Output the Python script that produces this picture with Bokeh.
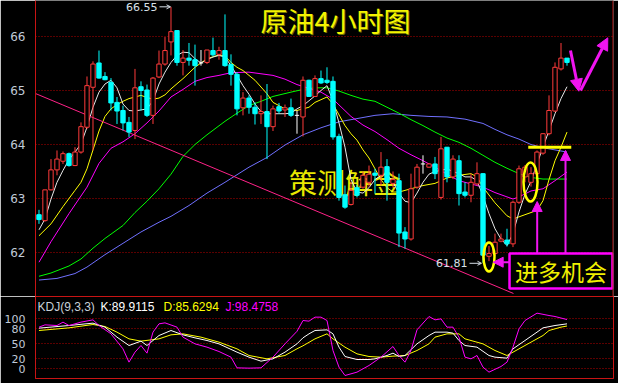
from bokeh.plotting import figure
from bokeh.layouts import column
from bokeh.models import Range1d, FixedTicker, Span, Label, Arrow, NormalHead, OpenHead
from bokeh.embed import file_html
from bokeh.resources import INLINE

# ---------------- candle data (4h crude oil) ----------------
opens = [62.70, 62.59, 63.16, 63.53, 63.69, 63.83, 63.61, 63.86, 64.32, 65.06,
         65.51, 65.26, 65.15, 64.78, 64.63, 64.41, 64.26, 65.07, 65.01, 64.54,
         65.25, 65.49, 65.90, 66.11, 65.52, 65.60, 65.57, 65.51, 65.52, 65.74,
         65.67, 65.74, 65.48, 65.30, 64.68, 64.86, 64.69, 64.57, 64.61, 64.33,
         64.70, 64.64, 64.68, 64.54, 64.51, 65.19, 64.89, 65.22, 65.19, 65.17,
         64.15, 63.07, 62.89, 63.20, 63.21, 63.30, 63.47, 63.43, 63.59, 63.28,
         63.33, 62.38, 62.25, 63.21, 63.64, 63.58, 63.64, 63.02, 63.95, 63.40,
         63.70, 63.12, 63.06, 63.27, 63.46, 61.93, 61.98, 62.21, 62.23, 62.16,
         62.93, 63.40, 63.30, 63.46, 63.84, 64.20, 64.62, 65.40, 65.60]
highs = [62.79, 63.16, 63.73, 63.89, 63.87, 63.85, 63.95, 64.41, 65.26, 65.54,
         65.74, 65.34, 65.23, 64.88, 64.72, 64.51, 65.40, 65.17, 65.11, 65.25,
         65.74, 65.99, 66.55, 66.11, 65.75, 65.88, 65.85, 65.75, 65.75, 65.98,
         65.81, 66.41, 65.67, 65.34, 64.97, 64.91, 64.78, 64.91, 65.12, 64.72,
         64.77, 64.74, 64.85, 64.63, 65.26, 65.20, 65.28, 65.37, 65.43, 65.26,
         64.20, 63.24, 63.30, 63.25, 63.50, 63.61, 63.55, 63.86, 63.73, 63.50,
         63.46, 62.47, 63.46, 63.64, 63.80, 63.65, 63.77, 64.14, 63.95, 63.80,
         63.80, 63.30, 63.46, 63.67, 63.47, 62.12, 62.35, 62.35, 62.44, 62.96,
         63.61, 63.62, 63.58, 63.89, 64.21, 64.91, 65.52, 65.88, 65.60]
lows = [62.53, 62.57, 63.15, 63.43, 63.64, 63.59, 63.60, 63.83, 64.29, 63.89,
        65.22, 65.19, 64.63, 64.38, 64.26, 64.14, 64.10, 64.63, 64.51, 64.38,
        65.23, 65.46, 65.65, 65.46, 65.28, 65.46, 65.09, 65.46, 65.49, 65.63,
        65.57, 65.44, 65.09, 64.54, 64.54, 64.57, 64.37, 64.38, 63.73, 64.25,
        64.57, 64.51, 64.51, 64.20, 64.15, 64.88, 64.88, 65.12, 65.12, 64.09,
        62.96, 62.81, 62.87, 63.02, 63.18, 63.22, 63.09, 63.24, 62.96, 63.20,
        62.10, 62.07, 62.22, 63.18, 63.46, 63.57, 63.36, 62.98, 63.30, 63.36,
        62.87, 63.02, 62.93, 63.24, 61.81, 61.84, 61.94, 62.19, 62.11, 62.10,
        62.90, 63.30, 63.22, 63.43, 63.81, 64.17, 64.60, 65.37, 65.46]
closes = [62.61, 63.16, 63.53, 63.73, 63.83, 63.61, 63.86, 64.33, 65.09, 65.49,
          65.23, 65.20, 64.77, 64.62, 64.40, 64.23, 65.05, 65.00, 64.54, 65.23,
          65.49, 65.74, 66.09, 65.52, 65.60, 65.56, 65.46, 65.51, 65.75, 65.66,
          65.74, 65.46, 65.30, 64.66, 64.86, 64.69, 64.57, 64.61, 64.33, 64.66,
          64.62, 64.68, 64.54, 64.54, 65.19, 64.89, 65.22, 65.14, 65.15, 64.14,
          63.02, 62.84, 63.15, 63.06, 63.43, 63.45, 63.43, 63.58, 63.30, 63.35,
          62.36, 62.25, 63.18, 63.58, 63.64, 63.64, 63.46, 63.92, 63.40, 63.73,
          63.09, 63.06, 63.30, 63.46, 61.95, 61.98, 62.19, 62.25, 62.16, 62.93,
          63.55, 63.58, 63.46, 63.86, 64.20, 64.63, 65.43, 65.60, 65.52]

# ---------------- moving averages ----------------
ma_white_x = list(range(89))
ma_white_y = [62.42, 62.62, 62.99, 63.30, 63.52, 63.72, 63.86, 64.01, 64.32, 64.69,
              64.97, 65.12, 65.19, 65.05, 64.75, 64.63, 64.62, 64.64, 64.66, 64.81,
              65.12, 65.34, 65.52, 65.65, 65.71, 65.70, 65.59, 65.51, 65.57, 65.62,
              65.65, 65.62, 65.46, 65.28, 65.09, 64.93, 64.75, 64.61, 64.57, 64.57,
              64.57, 64.57, 64.58, 64.66, 64.72, 64.81, 64.90, 65.00, 65.09, 64.81,
              64.40, 63.95, 63.35, 63.12, 63.10, 63.20, 63.35, 63.43, 63.45, 63.30,
              63.10, 62.95, 62.92, 63.10, 63.30, 63.45, 63.50, 63.52, 63.55, 63.50,
              63.46, 63.40, 63.40, 63.33, 63.05, 62.72, 62.44, 62.25, 62.13, 62.35,
              62.75, 63.08, 63.32, 63.64, 63.95, 64.26, 64.57, 64.85, 65.07]
ma_yellow_x = [0, 2, 4, 6, 7, 8, 9, 10, 11, 12, 13, 14, 15, 16, 17, 18, 19, 20, 21, 22,
               24, 26, 28, 30, 31, 32, 33, 34, 36, 38, 39, 41, 43, 45, 46, 48, 49, 51, 52, 53,
               54, 55, 56, 57, 58, 59, 60, 62, 64, 66, 68, 70, 72, 73, 74, 76, 78, 79, 81, 83,
               84, 85, 86, 87, 88]
ma_yellow_y = [62.31, 62.53, 62.85, 63.15, 63.30, 63.55, 63.90, 64.25, 64.52, 64.66,
               64.74, 64.80, 64.85, 64.88, 64.91, 64.87, 64.84, 64.86, 64.92, 65.03,
               65.22, 65.43, 65.59, 65.66, 65.64, 65.52, 65.43, 65.37, 65.19, 64.94,
               64.78, 64.66, 64.63, 64.69, 64.78, 64.88, 64.75, 64.35, 64.20, 64.08,
               63.90, 63.75, 63.55, 63.35, 63.20, 63.12, 63.12, 63.18, 63.24, 63.28,
               63.38, 63.43, 63.46, 63.40, 63.21, 62.92, 62.68, 62.62, 62.70, 62.78,
               62.96, 63.35, 63.70, 63.95, 64.23]
ma_magenta_x = [0, 2, 5, 8, 10, 12, 14, 16, 18, 20, 22, 24, 26, 28, 30, 32, 35, 37, 39, 41,
                43, 45, 47, 49, 52, 54, 56, 58, 60, 62, 64, 66, 68, 70, 72, 74, 76, 78, 79, 80,
                82, 84, 86, 88]
ma_magenta_y = [61.82, 62.20, 62.72, 63.21, 63.65, 63.93, 64.05, 64.20, 64.40, 64.62,
                64.88, 65.02, 65.17, 65.24, 65.28, 65.33, 65.34, 65.31, 65.28, 65.21,
                65.11, 65.04, 64.97, 64.84, 64.52, 64.36, 64.24, 64.09, 63.93, 63.81,
                63.70, 63.58, 63.45, 63.33, 63.27, 63.21, 63.11, 63.03, 62.99, 63.03,
                63.14, 63.18, 63.33, 63.49]
ma_green_x = [0, 2, 5, 7, 9, 11, 14, 16, 18, 20, 22, 24, 26, 28, 31, 33, 35, 37, 39, 42,
              44, 46, 48, 50, 52, 54, 56, 58, 60, 62, 64, 66, 68, 70, 72, 74, 76, 78, 80, 82,
              84, 86, 88]
ma_green_y = [61.56, 61.62, 61.75, 61.88, 62.08, 62.26, 62.50, 62.74, 62.95, 63.18,
              63.45, 63.78, 64.00, 64.18, 64.43, 64.58, 64.72, 64.80, 64.89, 64.97,
              65.02, 65.05, 65.05, 64.99, 64.91, 64.84, 64.80, 64.69, 64.58, 64.46,
              64.35, 64.23, 64.12, 64.04, 63.93, 63.80, 63.67, 63.56, 63.46, 63.39,
              63.36, 63.36, 63.36]
ma_blue_x = [0, 3, 6, 8, 11, 14, 17, 20, 22, 25, 28, 31, 35, 38, 41, 44, 47, 50, 53, 56,
             59, 62, 65, 68, 71, 74, 76, 78, 80, 82, 84, 86, 88]
ma_blue_y = [61.49, 61.52, 61.61, 61.73, 61.96, 62.17, 62.38, 62.56, 62.67, 62.87,
             63.10, 63.30, 63.58, 63.76, 63.99, 64.18, 64.31, 64.42, 64.48, 64.54,
             64.57, 64.54, 64.52, 64.51, 64.47, 64.39, 64.28, 64.18, 64.10, 64.00,
             63.94, 63.90, 63.86]

# ---------------- KDJ(9,3,3) ----------------
k_x = [0, 5, 9, 11, 13, 15, 17, 18, 20, 22, 24, 26, 28, 30, 33, 35, 37, 39, 41, 43,
       44, 45, 46, 48, 49, 50, 51, 53, 55, 56, 58, 59, 60, 61, 63, 65, 66, 68, 69, 70,
       71, 73, 75, 76, 78, 79, 81, 83, 84, 86, 88]
k_y = [81.3, 86.6, 91.3, 83.3, 63.3, 46.6, 55.3, 46.6, 66.6, 76.6,
       67.9, 61.9, 56.6, 49.9, 33.3, 23.3, 15.3, 19.9, 33.3, 50.0,
       62.0, 69.9, 76.6, 77.9, 69.9, 43.3, 24.6, 18.6, 18.6, 19.9,
       26.6, 31.3, 24.6, 26.6, 49.9, 66.6, 73.3, 73.3, 71.3, 56.6,
       46.6, 43.3, 26.6, 23.3, 21.3, 39.9, 56.6, 73.3, 81.9, 86.6, 89.9]
d_x = [0, 5, 9, 11, 13, 15, 17, 20, 22, 24, 27, 30, 33, 35, 38, 41, 43, 44, 46, 48,
       49, 51, 53, 55, 57, 59, 61, 63, 65, 66, 68, 70, 71, 74, 76, 78, 80, 82, 84, 85,
       87, 88]
d_y = [76.6, 81.9, 88.6, 84.6, 73.3, 59.9, 55.3, 59.9, 67.9, 69.9,
       63.3, 53.3, 39.9, 26.6, 19.9, 26.6, 40.0, 46.0, 59.9, 69.9,
       59.9, 43.3, 29.9, 24.6, 23.3, 25.3, 26.6, 36.6, 49.9, 63.3,
       69.9, 69.9, 59.9, 49.9, 36.6, 26.6, 39.9, 53.3, 66.6, 76.6, 83.3, 85.6]
j_x = [0, 1, 3, 4, 5, 7, 9, 10, 12, 14, 15, 16, 17, 18, 19, 20, 21, 23, 24, 26,
       28, 30, 32, 33, 35, 37, 39, 41, 43, 44, 45, 46, 47, 48, 49, 50, 51, 53, 55, 57,
       59, 60, 61, 62, 63, 65, 66, 67, 68, 69, 70, 71, 72, 73, 74, 75, 77, 78, 79, 80,
       81, 83, 85, 86, 88]
j_y = [83.3, 87.9, 86.6, 93.3, 86.6, 93.3, 97.9, 86.6, 69.9, 39.9,
       13.3, 33.3, 46.6, 31.3, 73.3, 89.9, 91.9, 83.3, 63.3, 49.9,
       43.3, 34.6, 23.3, 1.9, 1.3, 1.9, 23.3, 49.9, 75.0, 96.6,
       95.3, 103.3, 103.3, 96.6, 36.6, 3.3, -13.4, -6.7, 6.6, 23.3,
       44.6, 26.6, 13.3, 36.6, 77.9, 104.6, 97.9, 99.9, 83.3, 83.3,
       63.3, 23.3, 19.9, 26.6, 3.3, -6.7, 4.6, 13.3, 43.3, 79.9,
       96.6, 111.3, 106.6, 104.6, 98.5]

price_ticks = [62, 63, 64, 65, 66]
kdj_ticks = [0, 20, 50, 80, 100]
kdj_header = ["KDJ(9,3,3)", "K:89.9115", "D:85.6294", "J:98.4758"]

# hand-drawn annotations of the original chart
TITLE = "原油4小时图"
WATERMARK = "策测解金"
CALLOUT = "进多机会"
HIGH_TEXT = "66.55"
LOW_TEXT = "61.81"
trend_x = [-0.58, 79.08]
trend_y = [64.944, 61.241]

# ---------------- styles ----------------
RED = "#ff3b3b"
CYAN = "#00ffff"
WHITE = "#e8e8e8"
YEL = "#ffff00"
MAG = "#ff00ff"
GRN = "#00ff00"
BLU = "#7070ff"
PINK = "#ff2288"
FRAME = "#c81414"
GRID = "#b40000"
AXTXT = "#c0cad8"
ARW = "#f014f0"

XR = (-0.5833, 95.75)

n = len(opens)
idx = list(range(n))
up = [i for i in idx if closes[i] > opens[i]]
dn = [i for i in idx if closes[i] < opens[i]]
dj = [i for i in idx if closes[i] == opens[i]]

p = figure(width=618, height=296, x_range=Range1d(*XR), y_range=Range1d(61.185, 66.667),
           output_backend="svg", toolbar_location=None, x_axis_location=None,
           background_fill_color="black", border_fill_color="black",
           outline_line_color=None, min_border_left=35, min_border_right=5,
           min_border_top=0, min_border_bottom=0)
p.yaxis.ticker = FixedTicker(ticks=price_ticks)
p.yaxis.axis_line_color = FRAME
p.yaxis.major_tick_line_color = None
p.yaxis.minor_tick_line_color = None
p.yaxis.major_label_text_color = AXTXT
p.yaxis.major_label_text_font = "DejaVu Sans"
p.yaxis.major_label_text_font_size = "12px"
p.yaxis.major_label_standoff = 4
p.xgrid.visible = False
p.ygrid.ticker = FixedTicker(ticks=price_ticks)
p.ygrid.grid_line_color = GRID
p.ygrid.grid_line_dash = "1 2"

p.add_layout(Label(x=51.0, y=63.306, text=WATERMARK, text_font="Noto Sans CJK SC",
                   text_font_size="28px", text_color="#e8e800", text_align="center",
                   text_baseline="middle", level="underlay"))

# moving averages
p.line(ma_blue_x, ma_blue_y, line_color=BLU, line_width=1)
p.line(ma_green_x, ma_green_y, line_color=GRN, line_width=1)
p.line(ma_magenta_x, ma_magenta_y, line_color=MAG, line_width=1)
p.line(ma_yellow_x, ma_yellow_y, line_color=YEL, line_width=1)
p.line(ma_white_x, ma_white_y, line_color=WHITE, line_width=1)

# trend line
p.line(trend_x, trend_y, line_color=PINK, line_width=1)

# candles
W = 0.72
p.segment(x0=up, x1=up, y0=[lows[i] for i in up], y1=[highs[i] for i in up], line_color=RED)
p.vbar(x=up, width=W, top=[closes[i] for i in up], bottom=[opens[i] for i in up],
       fill_color="black", line_color=RED)
p.segment(x0=dn, x1=dn, y0=[lows[i] for i in dn], y1=[highs[i] for i in dn], line_color=CYAN)
p.vbar(x=dn, width=W, top=[opens[i] for i in dn], bottom=[closes[i] for i in dn],
       fill_color=CYAN, line_color=CYAN)
p.segment(x0=dj, x1=dj, y0=[lows[i] for i in dj], y1=[highs[i] for i in dj], line_color="white")
p.segment(x0=[i - W / 2 for i in dj], x1=[i + W / 2 for i in dj],
          y0=[opens[i] for i in dj], y1=[opens[i] for i in dj], line_color="white")

# right frame edge
p.add_layout(Span(location=XR[1] - 0.08, dimension="height", line_color=FRAME, line_width=1))

# title with shadow
for dx, col in ((1, "#707000"), (0, "#f4f400")):
    p.add_layout(Label(x=49.42, y=66.296, text=TITLE, text_font="Noto Sans CJK SC",
                       text_font_size="27px", text_color=col, text_align="center",
                       text_baseline="middle", x_offset=dx, y_offset=-dx))

# high / low labels
p.add_layout(Label(x=19.75, y=66.55, text=HIGH_TEXT, text_font="DejaVu Sans",
                   text_font_size="11px", text_color="#d8e0e8", text_align="right",
                   text_baseline="middle"))
p.add_layout(Arrow(end=OpenHead(size=4, line_color="#d8e0e8", line_width=1),
                   x_start=20.08, y_start=66.55, x_end=21.92, y_end=66.55,
                   line_color="#d8e0e8", line_width=1))
p.add_layout(Label(x=71.42, y=61.80, text=LOW_TEXT, text_font="DejaVu Sans",
                   text_font_size="11px", text_color="#d8e0e8", text_align="right",
                   text_baseline="middle"))
p.add_layout(Arrow(end=OpenHead(size=4, line_color="#d8e0e8", line_width=1),
                   x_start=71.75, y_start=61.80, x_end=73.75, y_end=61.80,
                   line_color="#d8e0e8", line_width=1))

# yellow marks
p.ellipse(x=[75.0, 81.92], y=[61.917, 63.306], width=[1.83, 2.33], height=[0.537, 0.722],
          fill_color=None, line_color=YEL, line_width=2.5)
p.segment(x0=[81.54], x1=[88.71], y0=[63.95], y1=[63.95], line_color=YEL, line_width=3)

# callout box
p.quad(left=[78.42], right=[95.58], top=[61.982], bottom=[61.333],
       fill_color="black", line_color=MAG, line_width=2.5)
p.add_layout(Label(x=87.0, y=61.66, text=CALLOUT, text_font="Noto Sans CJK SC",
                   text_font_size="23px", text_color="#f0f000", text_align="center",
                   text_baseline="middle"))

# magenta arrows
for xs, ys, xe, ye, lw, sz in [(78.42, 61.82, 75.7, 61.82, 2, 10),
                               (83.03, 61.982, 83.03, 62.944, 2, 10),
                               (87.75, 61.982, 87.75, 63.89, 2, 10),
                               (88.58, 65.741, 89.97, 64.987, 3, 12),
                               (90.25, 65.0, 94.8, 65.976, 3, 12)]:
    p.add_layout(Arrow(end=NormalHead(size=sz, fill_color=ARW, line_color=ARW),
                       x_start=xs, y_start=ys, x_end=xe, y_end=ye,
                       line_color=ARW, line_width=lw))

# ---------------- KDJ panel ----------------
k = figure(width=618, height=87, x_range=Range1d(*XR), y_range=Range1d(-19.4, 144.6),
           output_backend="svg", toolbar_location=None, x_axis_location=None,
           background_fill_color="black", border_fill_color="black",
           outline_line_color=FRAME, outline_line_width=1,
           min_border_left=35, min_border_right=5, min_border_top=0, min_border_bottom=5)
k.yaxis.ticker = FixedTicker(ticks=kdj_ticks)
k.yaxis.axis_line_color = FRAME
k.yaxis.major_tick_line_color = None
k.yaxis.minor_tick_line_color = None
k.yaxis.major_label_text_color = AXTXT
k.yaxis.major_label_text_font = "DejaVu Sans"
k.yaxis.major_label_text_font_size = "11px"
k.yaxis.major_label_standoff = 4
k.xgrid.visible = False
k.ygrid.ticker = FixedTicker(ticks=kdj_ticks)
k.ygrid.grid_line_color = GRID
k.ygrid.grid_line_dash = "1 2"

k.line(d_x, d_y, line_color=YEL, line_width=1)
k.line(k_x, k_y, line_color="white", line_width=1)
k.line(j_x, j_y, line_color=MAG, line_width=1)

for txt, xx, col in zip(kdj_header, [-0.25, 10.25, 20.75, 31.08],
                        ["#c8d0d8", "#ffffff", YEL, MAG]):
    k.add_layout(Label(x=xx, y=124.6, text=txt, text_font="Liberation Sans",
                       text_font_size="12px", text_color=col, text_align="left",
                       text_baseline="middle"))

layout = column(p, k, spacing=0)
open("out.html", "w").write(file_html(layout, INLINE))
